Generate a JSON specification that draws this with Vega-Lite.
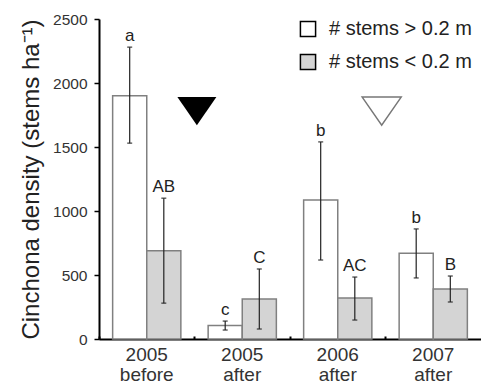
{
  "$schema": "https://vega.github.io/schema/vega-lite/v6.json",
  "width": 382,
  "height": 320,
  "autosize": {"type": "none"},
  "padding": {"left": 99, "top": 19, "right": 0, "bottom": 49},
  "background": "white",
  "config": {"font": "Liberation Sans", "view": {"stroke": null}},
  "datasets": {
    "bars": [
      {"group": "2005 before", "size": "# stems > 0.2 m", "value": 1900, "lo": 1530, "hi": 2280, "letter": "a"},
      {"group": "2005 before", "size": "# stems < 0.2 m", "value": 690, "lo": 280, "hi": 1100, "letter": "AB"},
      {"group": "2005 after", "size": "# stems > 0.2 m", "value": 105, "lo": 70, "hi": 140, "letter": "c"},
      {"group": "2005 after", "size": "# stems < 0.2 m", "value": 312, "lo": 78, "hi": 547, "letter": "C"},
      {"group": "2006 after", "size": "# stems > 0.2 m", "value": 1085, "lo": 617, "hi": 1540, "letter": "b"},
      {"group": "2006 after", "size": "# stems < 0.2 m", "value": 320, "lo": 148, "hi": 484, "letter": "AC"},
      {"group": "2007 after", "size": "# stems > 0.2 m", "value": 670, "lo": 477, "hi": 860, "letter": "b"},
      {"group": "2007 after", "size": "# stems < 0.2 m", "value": 390, "lo": 289, "hi": 492, "letter": "B"}
    ]
  },
  "layer": [
    {
      "data": {"name": "bars"},
      "mark": {"type": "bar", "stroke": "#808080", "strokeWidth": 1.5},
      "encoding": {
        "x": {
          "field": "group", "type": "nominal",
          "sort": ["2005 before", "2005 after", "2006 after", "2007 after"],
          "scale": {"paddingInner": 0, "paddingOuter": 0},
          "axis": {
            "title": null, "labelAngle": 0, "bandPosition": 0,
            "domainColor": "black", "domainWidth": 2,
            "tickColor": "black", "tickSize": -3, "tickWidth": 2,
            "labelExpr": "split(datum.label, ' ')",
            "labelFontSize": 19, "labelLineHeight": 20, "labelColor": "#333",
            "labelPadding": 9
          }
        },
        "xOffset": {
          "field": "size", "type": "nominal",
          "sort": ["# stems > 0.2 m", "# stems < 0.2 m"],
          "scale": {"paddingInner": 0, "paddingOuter": 0.4}
        },
        "y": {
          "field": "value", "type": "quantitative",
          "scale": {"domain": [0, 2500], "nice": false},
          "axis": {
            "title": "Cinchona density (stems ha⁻¹)",
            "titleFontSize": 24, "titleFontWeight": "normal", "titleColor": "#222",
            "titlePadding": 9,
            "values": [0, 500, 1000, 1500, 2000, 2500],
            "format": "d",
            "grid": false,
            "domainColor": "black", "domainWidth": 2,
            "tickColor": "black", "tickSize": 5, "tickWidth": 1.5,
            "labelFontSize": 15.5, "labelColor": "#333", "labelPadding": 7
          }
        },
        "fill": {
          "field": "size", "type": "nominal",
          "scale": {"domain": ["# stems > 0.2 m", "# stems < 0.2 m"], "range": ["white", "#d4d4d4"]},
          "legend": {
            "orient": "none", "legendX": 199, "legendY": 0, "title": null,
            "symbolType": "square", "symbolSize": 230,
            "symbolStrokeColor": "black", "symbolStrokeWidth": 1.5,
            "labelFontSize": 20, "labelColor": "#222",
            "rowPadding": 11, "labelOffset": 11, "padding": 0
          }
        }
      }
    },
    {
      "data": {"name": "bars"},
      "mark": {"type": "rule", "color": "#222", "strokeWidth": 1.2},
      "encoding": {
        "x": {"field": "group", "type": "nominal", "sort": ["2005 before", "2005 after", "2006 after", "2007 after"]},
        "xOffset": {"field": "size", "type": "nominal", "sort": ["# stems > 0.2 m", "# stems < 0.2 m"]},
        "y": {"field": "lo", "type": "quantitative"},
        "y2": {"field": "hi"}
      }
    },
    {
      "data": {"name": "bars"},
      "mark": {"type": "tick", "color": "#222", "size": 5, "thickness": 1.5, "orient": "horizontal"},
      "encoding": {
        "x": {"field": "group", "type": "nominal", "sort": ["2005 before", "2005 after", "2006 after", "2007 after"]},
        "xOffset": {"field": "size", "type": "nominal", "sort": ["# stems > 0.2 m", "# stems < 0.2 m"]},
        "y": {"field": "lo", "type": "quantitative"}
      }
    },
    {
      "data": {"name": "bars"},
      "mark": {"type": "tick", "color": "#222", "size": 5, "thickness": 1.5, "orient": "horizontal"},
      "encoding": {
        "x": {"field": "group", "type": "nominal", "sort": ["2005 before", "2005 after", "2006 after", "2007 after"]},
        "xOffset": {"field": "size", "type": "nominal", "sort": ["# stems > 0.2 m", "# stems < 0.2 m"]},
        "y": {"field": "hi", "type": "quantitative"}
      }
    },
    {
      "data": {"name": "bars"},
      "mark": {"type": "text", "fontSize": 17, "color": "#222", "baseline": "alphabetic", "dy": -6},
      "encoding": {
        "x": {"field": "group", "type": "nominal", "sort": ["2005 before", "2005 after", "2006 after", "2007 after"]},
        "xOffset": {"field": "size", "type": "nominal", "sort": ["# stems > 0.2 m", "# stems < 0.2 m"]},
        "y": {"field": "hi", "type": "quantitative"},
        "text": {"field": "letter"}
      }
    },
    {
      "data": {"values": [{"group": "2005 after", "y": 1780}]},
      "mark": {"type": "point", "shape": "M-1,-0.72L1,-0.72L0,0.72Z", "filled": true, "fill": "black", "opacity": 1, "size": 1521},
      "encoding": {
        "x": {"field": "group", "type": "nominal", "bandPosition": 0.025, "sort": ["2005 before", "2005 after", "2006 after", "2007 after"]},
        "y": {"field": "y", "type": "quantitative"}
      }
    },
    {
      "data": {"values": [{"group": "2006 after", "y": 1780}]},
      "mark": {"type": "point", "shape": "M-1,-0.72L1,-0.72L0,0.72Z", "filled": false, "stroke": "#777", "strokeWidth": 1.5, "opacity": 1, "size": 1521},
      "encoding": {
        "x": {"field": "group", "type": "nominal", "bandPosition": 0.96, "sort": ["2005 before", "2005 after", "2006 after", "2007 after"]},
        "y": {"field": "y", "type": "quantitative"}
      }
    }
  ]
}
